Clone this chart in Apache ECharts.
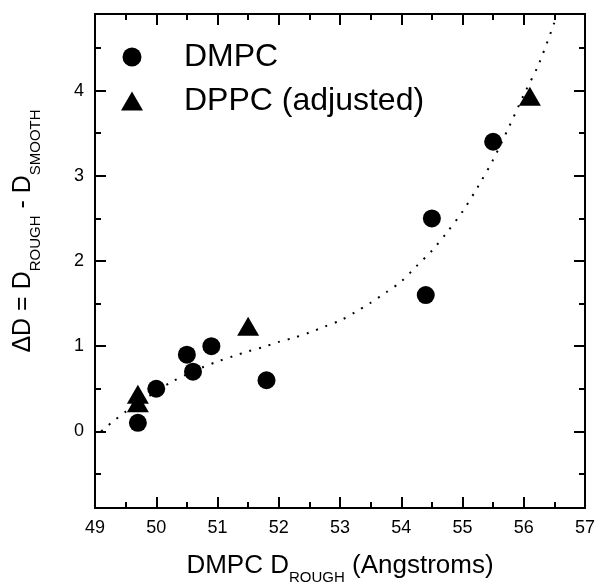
<!DOCTYPE html>
<html>
<head>
<meta charset="utf-8">
<script src="https://cdn.jsdelivr.net/npm/echarts@6/dist/echarts.min.js"></script>
<style>
  html, body { margin: 0; padding: 0; background: #fff; }
  #chart { width: 597px; height: 584px; }
</style>
</head>
<body>
<div id="chart"></div>
<script>
// ---- data ----
var dmpcX = [49.7, 50.0, 50.5, 50.6, 50.9, 51.8, 54.4, 54.5, 55.5];
var dmpcY = [0.1, 0.5, 0.9, 0.7, 1.0, 0.6, 1.6, 2.5, 3.4];
var dppcX = [49.7, 49.7, 51.5, 56.1];
var dppcY = [0.4, 0.3, 1.2, 3.9];
var fitX = [49.1, 49.3, 49.5, 49.75, 50.0, 50.25, 50.5, 50.75, 51.0, 51.25, 51.5, 51.75, 52.0, 52.25, 52.5, 52.75, 53.0, 53.25, 53.5, 53.75, 54.0, 54.25, 54.5, 54.75, 55.0, 55.25, 55.5, 55.75, 56.0, 56.25, 56.53];
var fitY = [0.00, 0.12, 0.23, 0.35, 0.47, 0.58, 0.67, 0.75, 0.82, 0.88, 0.94, 0.99, 1.05, 1.10, 1.16, 1.23, 1.30, 1.40, 1.51, 1.63, 1.76, 1.94, 2.12, 2.34, 2.58, 2.87, 3.19, 3.56, 3.95, 4.32, 4.86];
var xMajorTicks = [49, 50, 51, 52, 53, 54, 55, 56, 57];
var xMinorTicks = [49.5, 50.5, 51.5, 52.5, 53.5, 54.5, 55.5, 56.5];
var yMajorTicks = [0, 1, 2, 3, 4];
var yMinorTicks = [-0.5, 0.5, 1.5, 2.5, 3.5, 4.5];
var seriesNames = ['DMPC', 'DPPC (adjusted)'];

function zip(a, b) { return a.map(function (v, i) { return [v, b[i]]; }); }

var FONT = '"Liberation Sans", Arial, Helvetica, sans-serif';
function axisLine() { return { show: true, onZero: false, lineStyle: { color: '#000', width: 2 } }; }

function mkX(pos, ticks, len, withLabels) {
  return {
    type: 'value', position: pos, min: 49, max: 57, interval: 1,
    axisLine: axisLine(),
    axisTick: { show: true, inside: true, length: len, customValues: ticks, lineStyle: { color: '#000', width: 2 } },
    axisLabel: withLabels ? { show: true, color: '#000', fontSize: 18, fontFamily: FONT, margin: 11, customValues: xMajorTicks } : { show: false },
    splitLine: { show: false }
  };
}
function mkY(pos, ticks, len, withLabels) {
  return {
    type: 'value', position: pos, min: -0.9, max: 4.9,
    axisLine: axisLine(),
    axisTick: { show: true, inside: true, length: len, customValues: ticks, lineStyle: { color: '#000', width: 2 } },
    axisLabel: withLabels ? { show: true, color: '#000', fontSize: 18, fontFamily: FONT, margin: 11, customValues: yMajorTicks } : { show: false },
    splitLine: { show: false }
  };
}

var xBottom = mkX('bottom', xMajorTicks, 11, true);
xBottom.name = '{m|DMPC D}{s|ROUGH}{m| (Angstroms)}';
xBottom.nameLocation = 'middle';
xBottom.nameGap = 45;
xBottom.nameTextStyle = {
  color: '#000', fontFamily: FONT,
  rich: {
    m: { fontSize: 26, lineHeight: 30, verticalAlign: 'top', color: '#000', fontFamily: FONT },
    s: { fontSize: 15, lineHeight: 15, padding: [17, 0, 0, 0], verticalAlign: 'top', color: '#000', fontFamily: FONT }
  }
};

var yLeft = mkY('left', yMajorTicks, 11, true);
yLeft.name = '{m|ΔD = D}{s|ROUGH}{m| - D}{s|SMOOTH}';
yLeft.nameLocation = 'middle';
yLeft.nameGap = 54;
yLeft.nameRotate = 90;
yLeft.nameTextStyle = {
  color: '#000', fontFamily: FONT, padding: [0, 0, 0, 60],
  rich: {
    m: { fontSize: 25, lineHeight: 30, verticalAlign: 'top', color: '#000', fontFamily: FONT },
    s: { fontSize: 15, lineHeight: 15, padding: [17, 0, 0, 0], verticalAlign: 'top', color: '#000', fontFamily: FONT }
  }
};

var option = {
  animation: false,
  backgroundColor: '#fff',
  grid: { left: 95, right: 12, top: 14, bottom: 76, containLabel: false, outerBoundsMode: 'none' },
  legend: {
    orient: 'vertical', left: 121, top: 41, padding: 0,
    itemWidth: 22, itemHeight: 19, itemGap: 12,
    data: seriesNames,
    textStyle: { color: '#000', fontSize: 32, lineHeight: 32, fontFamily: FONT, padding: [0, 0, 0, 36] }
  },
  xAxis: [
    xBottom,
    mkX('bottom', xMinorTicks, 6, false),
    mkX('top', xMajorTicks, 11, false),
    mkX('top', xMinorTicks, 6, false)
  ],
  yAxis: [
    yLeft,
    mkY('left', yMinorTicks, 6, false),
    mkY('right', yMajorTicks, 11, false),
    mkY('right', yMinorTicks, 6, false)
  ],
  series: [
    {
      name: 'fit', type: 'line', data: zip(fitX, fitY), smooth: 0.3,
      showSymbol: false, silent: true, z: 1,
      lineStyle: { color: '#000', width: 2, type: [2, 8] }
    },
    {
      name: seriesNames[0], type: 'scatter', data: zip(dmpcX, dmpcY),
      symbol: 'circle', symbolSize: 18, z: 3,
      itemStyle: { color: '#000', opacity: 1 }
    },
    {
      name: seriesNames[1], type: 'scatter', data: zip(dppcX, dppcY),
      symbol: 'triangle', symbolSize: [22, 19], symbolOffset: [0, -3], z: 3,
      itemStyle: { color: '#000', opacity: 1 }
    }
  ]
};

var chart = echarts.init(document.getElementById('chart'), null, { renderer: 'canvas' });
chart.setOption(option);
</script>
</body>
</html>
